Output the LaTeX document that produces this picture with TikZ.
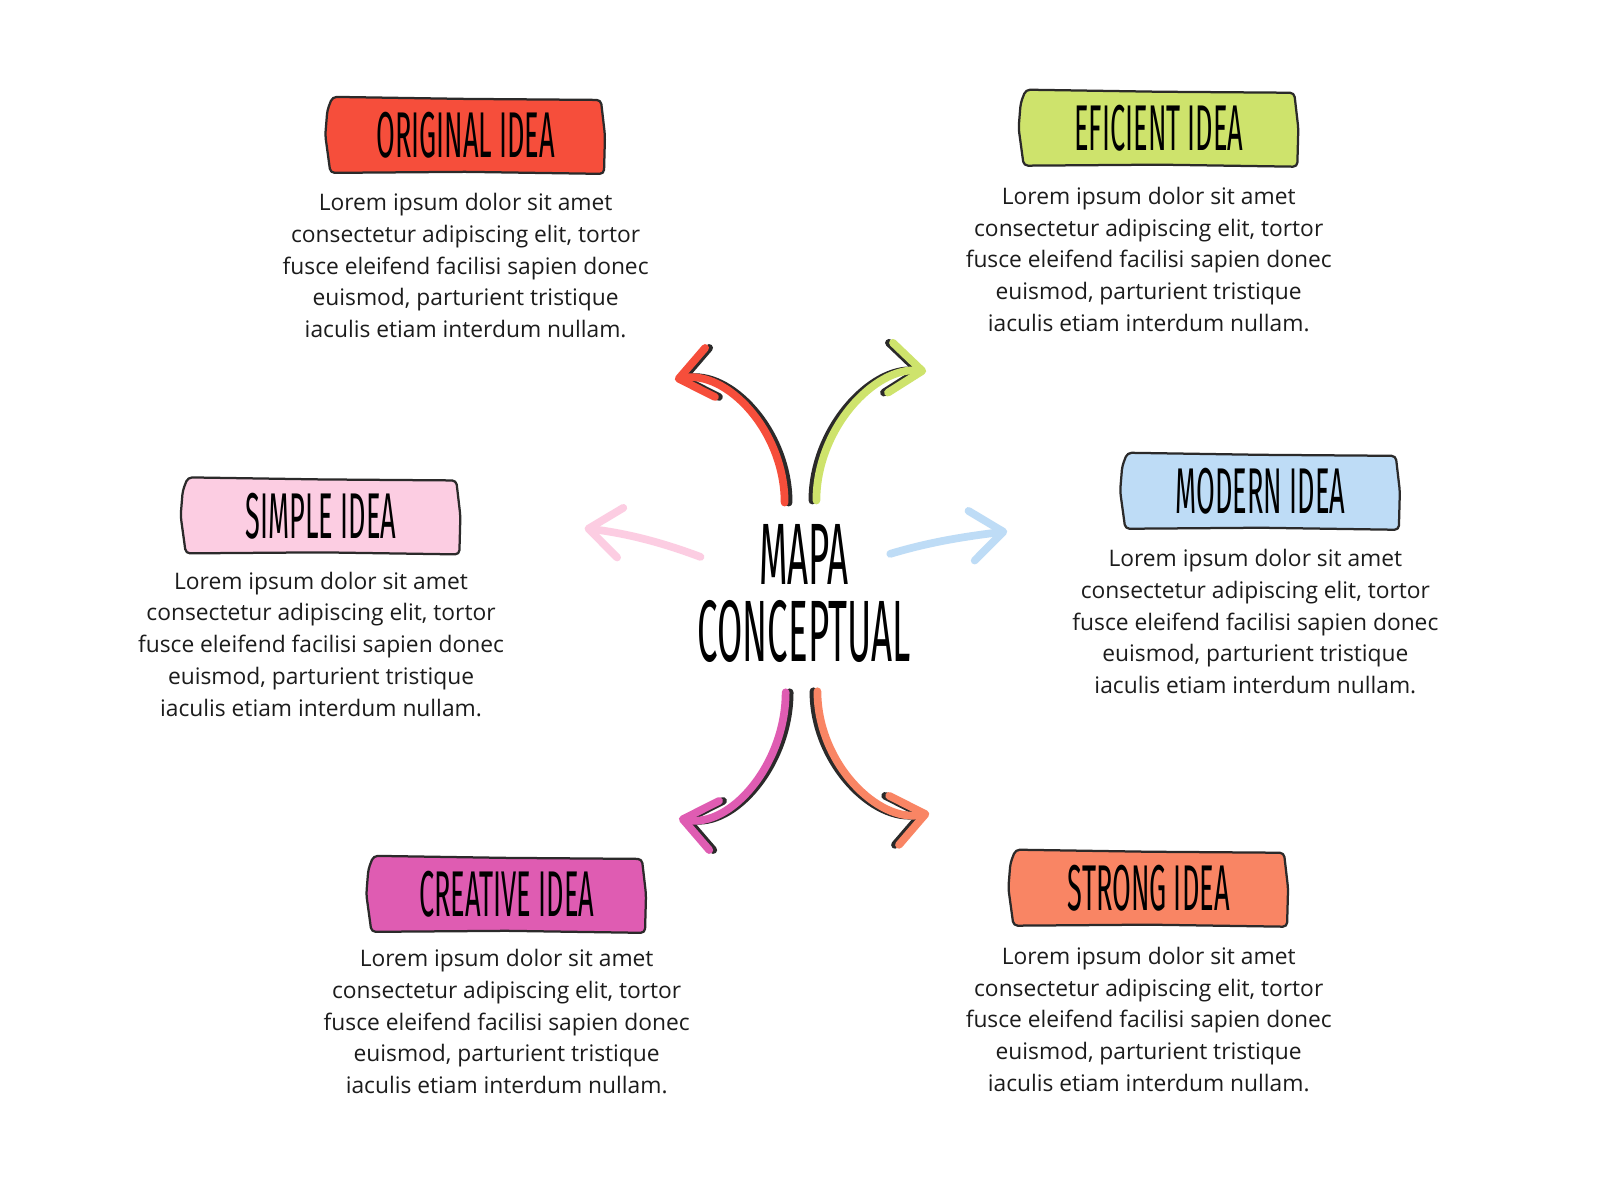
\documentclass[tikz,border=0pt]{standalone}
\usepackage{fontspec}
\setmainfont{Open Sans}
\newfontfamily\headfont[FakeStretch=0.42]{Fira Sans}
\usetikzlibrary{arrows.meta,backgrounds}
\definecolor{inkline}{HTML}{2B2A2A}
\definecolor{bodyink}{HTML}{1C1C1C}
\definecolor{ideared}{HTML}{F64E3B}
\definecolor{ideagreen}{HTML}{CEE36C}
\definecolor{ideapink}{HTML}{FCCDE2}
\definecolor{ideablue}{HTML}{BEDCF6}
\definecolor{ideamagenta}{HTML}{DF5CB2}
\definecolor{ideaorange}{HTML}{F98564}
\tikzset{
  ideabox/.style={minimum width=6.9cm, minimum height=1.86cm, inner sep=0pt,
    font=\headfont\fontsize{46}{46}\selectfont, text=black},
  boxedge/.style={draw=inkline, line width=1.6pt, line join=round, rounded corners=3pt},
  ideatext/.style={align=center, inner sep=0pt, text=bodyink,
    font=\fontsize{16.2}{22.6}\selectfont},
  bigtitle/.style={inner sep=0pt, anchor=base, font=\headfont\fontsize{62}{62}\selectfont},
  mainarrow/.style={draw=#1, line width=5.5pt, line cap=round,
    -{Straight Barb[length=0.8cm,width=1.25cm,round]}},
  arrowshadow/.style={mainarrow=inkline, transform canvas={xshift=#1}},
}
\newcommand{\loremtext}{Lorem ipsum dolor sit amet\\consectetur adipiscing elit, tortor\\fusce eleifend facilisi sapien donec\\euismod, parturient tristique\\iaculis etiam interdum nullam.}
\newcommand{\roughbox}[2]{%
  \filldraw[boxedge, fill=#2]
    ([shift={(5,-1)}]#1.north west) -- ([shift={(0,1)}]#1.north)
    -- ([shift={(-3,2)}]#1.north east) -- ([shift={(1,0)}]#1.east)
    -- ([shift={(0,1)}]#1.south east) -- ([shift={(0,-1)}]#1.south)
    -- ([shift={(3,0)}]#1.south west) -- ([shift={(-2,0)}]#1.west)
    -- ([shift={(0,12)}]#1.north west) -- cycle;}
\begin{document}
\begin{tikzpicture}[x=0.025641cm,y=-0.025641cm]
  \useasboundingbox (0,0) rectangle (1560,1170);

  \node[ideabox] (original) at (454,132) {ORIGINAL IDEA};
  \node[ideatext] (originaltxt) at (454,259) {\loremtext};
  \node[ideabox] (eficient) at (1130,125) {EFICIENT IDEA};
  \node[ideatext] (eficienttxt) at (1120,253) {\loremtext};
  \node[ideabox] (simple) at (313,503) {SIMPLE IDEA};
  \node[ideatext] (simpletxt) at (313,628) {\loremtext};
  \node[ideabox] (modern) at (1229,479) {MODERN IDEA};
  \node[ideatext] (moderntxt) at (1224,606) {\loremtext};
  \node[ideabox] (creative) at (494,872) {CREATIVE IDEA};
  \node[ideatext] (creativetxt) at (494,996) {\loremtext};
  \node[ideabox] (strong) at (1120,866) {STRONG IDEA};
  \node[ideatext] (strongtxt) at (1120,994) {\loremtext};

  \begin{scope}[on background layer]
    \fill[white] (0,0) rectangle (1560,1170);
    \roughbox{original}{ideared}
    \roughbox{eficient}{ideagreen}
    \roughbox{simple}{ideapink}
    \roughbox{modern}{ideablue}
    \roughbox{creative}{ideamagenta}
    \roughbox{strong}{ideaorange}
  \end{scope}

  \node[bigtitle] (mapa) at (784,570) {MAPA};
  \node[bigtitle] (conceptual) at (784,645) {CONCEPTUAL};

  \coordinate (redstart) at (765,490);
  \coordinate (redtip) at (658,370);
  \coordinate (greenstart) at (796,488);
  \coordinate (greentip) at (903,362);
  \coordinate (pinkstart) at (683,543);
  \coordinate (pinktip) at (570,515);
  \coordinate (bluestart) at (868,540);
  \coordinate (bluetip) at (982,518);
  \coordinate (magentastart) at (766,675);
  \coordinate (magentatip) at (662,798);
  \coordinate (orangestart) at (797,674);
  \coordinate (orangetip) at (906,793);

  \draw[arrowshadow=0.1cm] (redstart) .. controls +(0,-70) and +(50,-10) .. (redtip);
  \draw[mainarrow=ideared] (redstart) .. controls +(0,-70) and +(50,-10) .. (redtip);
  \draw[arrowshadow=-0.1cm] (greenstart) .. controls +(0,-70) and +(-50,-5) .. (greentip);
  \draw[mainarrow=ideagreen] (greenstart) .. controls +(0,-70) and +(-50,-5) .. (greentip);
  \draw[mainarrow=ideapink] (pinkstart) .. controls +(-40,-15) and +(40,5) .. (pinktip);
  \draw[mainarrow=ideablue] (bluestart) .. controls +(40,-12) and +(-40,5) .. (bluetip);
  \draw[arrowshadow=0.1cm] (magentastart) .. controls +(0,70) and +(50,10) .. (magentatip);
  \draw[mainarrow=ideamagenta] (magentastart) .. controls +(0,70) and +(50,10) .. (magentatip);
  \draw[arrowshadow=-0.1cm] (orangestart) .. controls +(0,70) and +(-50,10) .. (orangetip);
  \draw[mainarrow=ideaorange] (orangestart) .. controls +(0,70) and +(-50,10) .. (orangetip);
\end{tikzpicture}
\end{document}
